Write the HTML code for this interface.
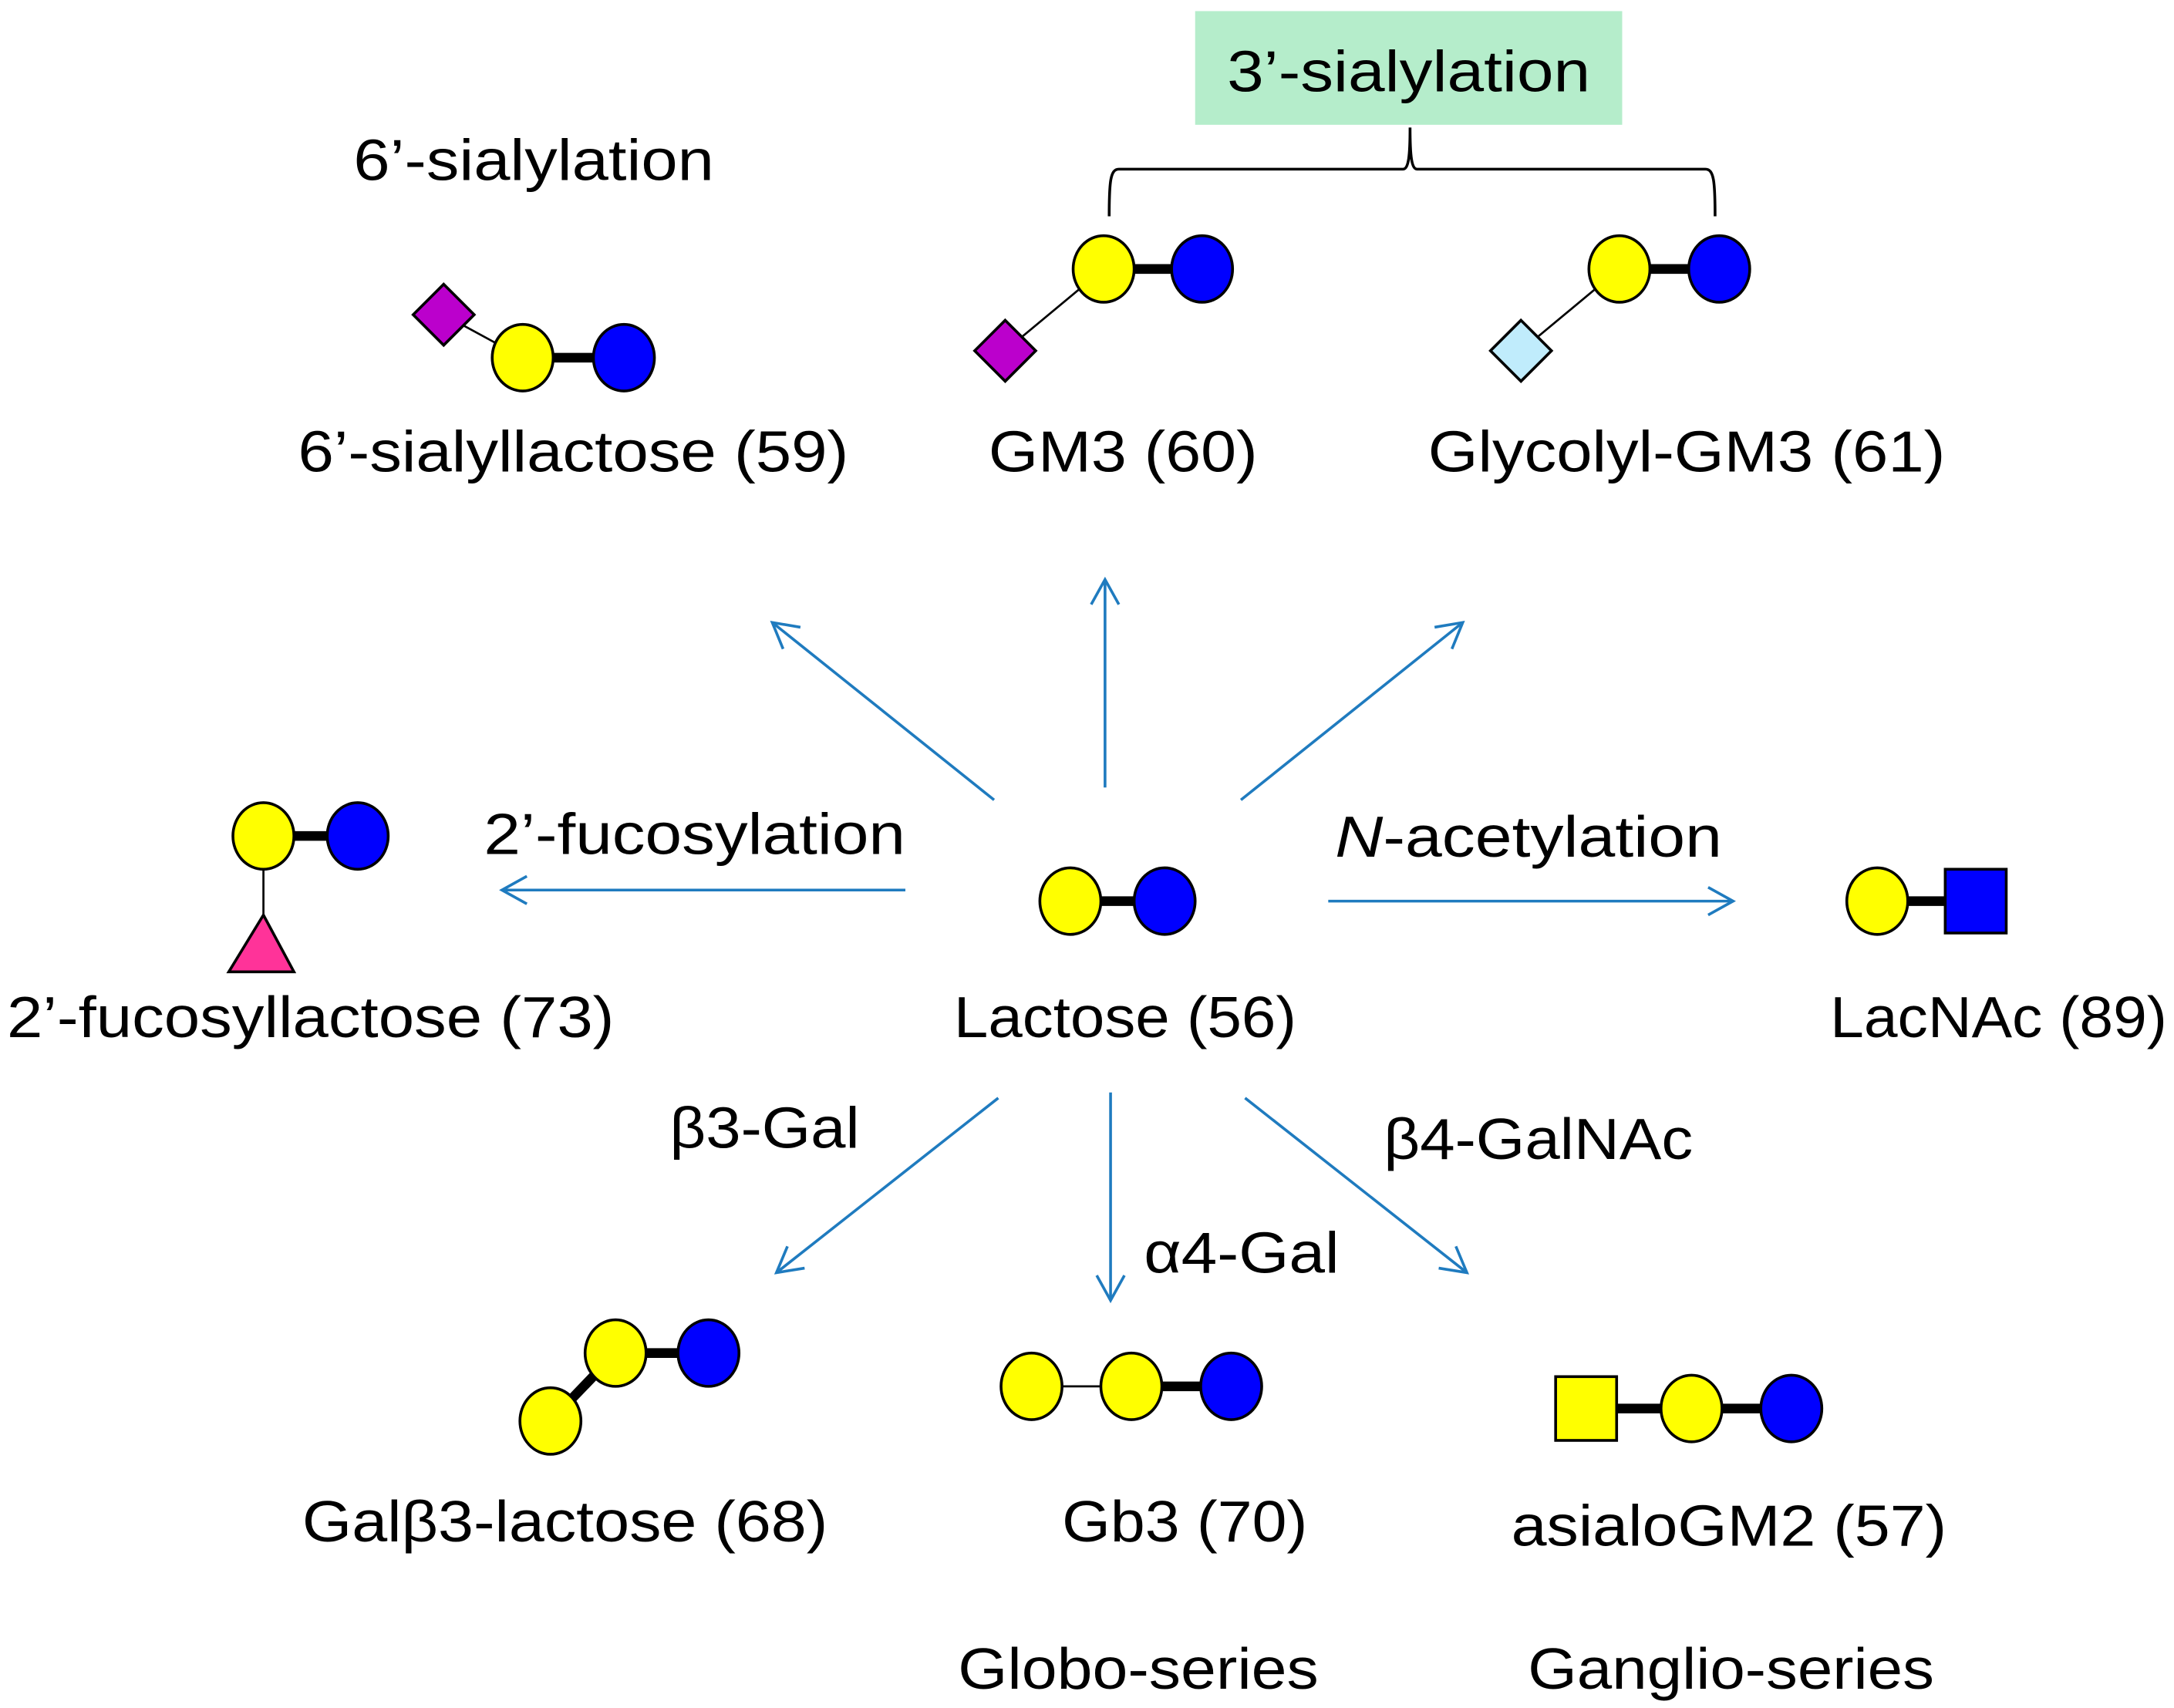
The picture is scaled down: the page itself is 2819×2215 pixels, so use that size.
<!DOCTYPE html>
<html><head><meta charset="utf-8"><style>
html,body{margin:0;padding:0;background:#fff;}
svg{display:block;}
text{font-family:"Liberation Sans",sans-serif;font-size:42px;fill:#000;}
</style></head><body>
<svg width="2819" height="2215" viewBox="0 0 1568 1232" xmlns="http://www.w3.org/2000/svg">
<defs>
<marker id="a" markerWidth="24" markerHeight="24" refX="20" refY="12" orient="auto" markerUnits="userSpaceOnUse">
<path d="M2,2 L20,12 L2,22" fill="none" stroke="#1f7bbf" stroke-width="2"/>
</marker>
</defs>
<g stroke="#1f7bbf" stroke-width="2" marker-end="url(#a)">
<line x1="717" y1="577" x2="557" y2="449"/>
<line x1="797" y1="568" x2="797" y2="418"/>
<line x1="895" y1="577" x2="1055" y2="449"/>
<line x1="653" y1="642" x2="362" y2="642"/>
<line x1="958" y1="650" x2="1250" y2="650"/>
<line x1="720" y1="792" x2="560" y2="918"/>
<line x1="801" y1="788" x2="801" y2="938"/>
<line x1="898" y1="792" x2="1058" y2="918"/>
</g>
<rect x="862" y="8" width="308" height="82" fill="#b5edcb"/>
<path d="M1017,92 C1017,112 1016,122 1012,122 L807,122 C801,122 800,130 800,156 M1017,92 C1017,112 1018,122 1022,122 L1230,122 C1236,122 1237,130 1237,156" fill="none" stroke="#000" stroke-width="2"/>
<g stroke="#000" stroke-width="2">
<!-- 6'-SL -->
<line x1="320" y1="227" x2="377" y2="258" stroke-width="1.5"/>
<line x1="377" y1="258" x2="450" y2="258" stroke-width="7"/>
<polygon points="320,205 342,227 320,249 298,227" fill="#bb00cc"/>
<ellipse cx="377" cy="258" rx="22" ry="24" fill="#ffff00"/>
<ellipse cx="450" cy="258" rx="22" ry="24" fill="#0000ff"/>
<!-- GM3 -->
<line x1="725" y1="253" x2="796" y2="194" stroke-width="1.5"/>
<line x1="796" y1="194" x2="867" y2="194" stroke-width="7"/>
<polygon points="725,231 747,253 725,275 703,253" fill="#bb00cc"/>
<ellipse cx="796" cy="194" rx="22" ry="24" fill="#ffff00"/>
<ellipse cx="867" cy="194" rx="22" ry="24" fill="#0000ff"/>
<!-- Glycolyl -->
<line x1="1097" y1="253" x2="1168" y2="194" stroke-width="1.5"/>
<line x1="1168" y1="194" x2="1240" y2="194" stroke-width="7"/>
<polygon points="1097,231 1119,253 1097,275 1075,253" fill="#c0ecfc"/>
<ellipse cx="1168" cy="194" rx="22" ry="24" fill="#ffff00"/>
<ellipse cx="1240" cy="194" rx="22" ry="24" fill="#0000ff"/>
<!-- 2'-FL -->
<line x1="190" y1="603" x2="190" y2="660" stroke-width="1.5"/>
<line x1="190" y1="603" x2="258" y2="603" stroke-width="7"/>
<polygon points="190,660 212,701 165,701" fill="#ff3399"/>
<ellipse cx="190" cy="603" rx="22" ry="24" fill="#ffff00"/>
<ellipse cx="258" cy="603" rx="22" ry="24" fill="#0000ff"/>
<!-- Lactose -->
<line x1="772" y1="650" x2="840" y2="650" stroke-width="7"/>
<ellipse cx="772" cy="650" rx="22" ry="24" fill="#ffff00"/>
<ellipse cx="840" cy="650" rx="22" ry="24" fill="#0000ff"/>
<!-- LacNAc -->
<line x1="1354" y1="650" x2="1420" y2="650" stroke-width="7"/>
<ellipse cx="1354" cy="650" rx="22" ry="24" fill="#ffff00"/>
<rect x="1403" y="627" width="44" height="46" fill="#0000ff"/>
<!-- Galb3 -->
<line x1="397" y1="1025" x2="444" y2="976" stroke-width="7"/>
<line x1="444" y1="976" x2="511" y2="976" stroke-width="7"/>
<ellipse cx="444" cy="976" rx="22" ry="24" fill="#ffff00"/>
<ellipse cx="511" cy="976" rx="22" ry="24" fill="#0000ff"/>
<ellipse cx="397" cy="1025" rx="22" ry="24" fill="#ffff00"/>
<!-- Gb3 -->
<line x1="744" y1="1000" x2="816" y2="1000" stroke-width="1.5"/>
<line x1="816" y1="1000" x2="888" y2="1000" stroke-width="7"/>
<ellipse cx="744" cy="1000" rx="22" ry="24" fill="#ffff00"/>
<ellipse cx="816" cy="1000" rx="22" ry="24" fill="#ffff00"/>
<ellipse cx="888" cy="1000" rx="22" ry="24" fill="#0000ff"/>
<!-- asialoGM2 -->
<line x1="1144" y1="1016" x2="1292" y2="1016" stroke-width="7"/>
<rect x="1122" y="993" width="44" height="46" fill="#ffff00"/>
<ellipse cx="1220" cy="1016" rx="22" ry="24" fill="#ffff00"/>
<ellipse cx="1292" cy="1016" rx="22" ry="24" fill="#0000ff"/>
</g>
<g lengthAdjust="spacingAndGlyphs">
<text x="255" y="130" textLength="260" lengthAdjust="spacingAndGlyphs">6’-sialylation</text>
<text x="885" y="66" textLength="262" lengthAdjust="spacingAndGlyphs">3’-sialylation</text>
<text x="215" y="340" textLength="397" lengthAdjust="spacingAndGlyphs">6’-sialyllactose (59)</text>
<text x="713" y="340" textLength="194" lengthAdjust="spacingAndGlyphs">GM3 (60)</text>
<text x="1030" y="340" textLength="373" lengthAdjust="spacingAndGlyphs">Glycolyl-GM3 (61)</text>
<text x="349" y="616" textLength="304" lengthAdjust="spacingAndGlyphs">2’-fucosylation</text>
<text x="963" y="618" textLength="279" lengthAdjust="spacingAndGlyphs"><tspan font-style="italic">N</tspan>-acetylation</text>
<text x="688" y="748" textLength="247" lengthAdjust="spacingAndGlyphs">Lactose (56)</text>
<text x="5" y="748" textLength="438" lengthAdjust="spacingAndGlyphs">2’-fucosyllactose (73)</text>
<text x="1320" y="748" textLength="243" lengthAdjust="spacingAndGlyphs">LacNAc (89)</text>
<text x="483" y="828" textLength="137" lengthAdjust="spacingAndGlyphs">β3-Gal</text>
<text x="998" y="836" textLength="223" lengthAdjust="spacingAndGlyphs">β4-GalNAc</text>
<text x="825" y="918" textLength="141" lengthAdjust="spacingAndGlyphs">α4-Gal</text>
<text x="218" y="1112" textLength="379" lengthAdjust="spacingAndGlyphs">Galβ3-lactose (68)</text>
<text x="766" y="1112" textLength="177" lengthAdjust="spacingAndGlyphs">Gb3 (70)</text>
<text x="1090" y="1115" textLength="314" lengthAdjust="spacingAndGlyphs">asialoGM2 (57)</text>
<text x="691" y="1218" textLength="260" lengthAdjust="spacingAndGlyphs">Globo-series</text>
<text x="1102" y="1218" textLength="293" lengthAdjust="spacingAndGlyphs">Ganglio-series</text>
</g>
</svg>
</body></html>
